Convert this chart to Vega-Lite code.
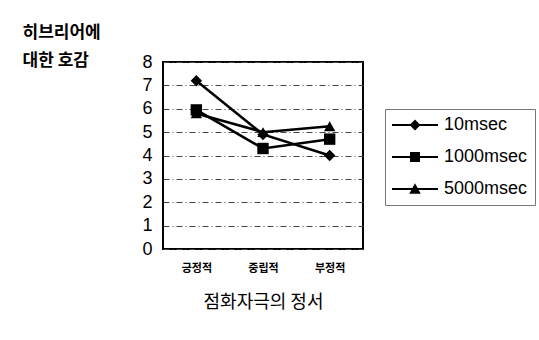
{
  "$schema": "https://vega.github.io/schema/vega-lite/v6.json",
  "width": 200,
  "height": 187,
  "autosize": "none",
  "padding": {"left": 163, "top": 62, "right": 176, "bottom": 91},
  "background": "white",
  "data": {
    "values": [
      {"emotion": "긍정적", "condition": "10msec", "rating": 7.2},
      {"emotion": "중립적", "condition": "10msec", "rating": 4.9},
      {"emotion": "부정적", "condition": "10msec", "rating": 4.0},
      {"emotion": "긍정적", "condition": "1000msec", "rating": 5.95},
      {"emotion": "중립적", "condition": "1000msec", "rating": 4.3},
      {"emotion": "부정적", "condition": "1000msec", "rating": 4.7},
      {"emotion": "긍정적", "condition": "5000msec", "rating": 5.8},
      {"emotion": "중립적", "condition": "5000msec", "rating": 5.0},
      {"emotion": "부정적", "condition": "5000msec", "rating": 5.25}
    ]
  },
  "encoding": {
    "x": {
      "field": "emotion",
      "type": "nominal",
      "sort": ["긍정적", "중립적", "부정적"],
      "scale": {"type": "point", "padding": 0.5},
      "axis": {
        "title": "점화자극의 정서",
        "titleFont": "Noto Sans CJK KR",
        "titleFontSize": 18,
        "titleFontWeight": "normal",
        "titleColor": "black",
        "titlePadding": 20,
        "labelFont": "Noto Sans CJK KR",
        "labelFontSize": 11,
        "labelFontWeight": "bold",
        "labelColor": "black",
        "labelAngle": 0,
        "labelPadding": 13,
        "ticks": false,
        "domain": false,
        "grid": false
      }
    },
    "y": {
      "field": "rating",
      "type": "quantitative",
      "scale": {"domain": [0, 8], "nice": false},
      "axis": {
        "title": ["히브리어에", "대한 호감"],
        "titleAngle": 0,
        "titleX": -141,
        "titleY": -30,
        "titleAlign": "left",
        "titleBaseline": "middle",
        "titleFont": "Noto Sans CJK KR",
        "titleFontSize": 17,
        "titleFontWeight": "bold",
        "titleColor": "black",
        "titleLineHeight": 28,
        "values": [0, 1, 2, 3, 4, 5, 6, 7, 8],
        "labelFont": "Liberation Sans",
        "labelFontSize": 18,
        "labelColor": "black",
        "labelPadding": 11,
        "ticks": false,
        "domain": false,
        "grid": true,
        "gridColor": "#444444",
        "gridDash": [6, 3, 1, 3],
        "gridWidth": 1
      }
    }
  },
  "layer": [
    {
      "mark": {"type": "line", "color": "black", "strokeWidth": 2.5},
      "encoding": {"detail": {"field": "condition"}}
    },
    {
      "mark": {"type": "point", "filled": true, "color": "black", "opacity": 1, "size": 130},
      "encoding": {
        "shape": {
          "field": "condition",
          "type": "nominal",
          "scale": {"domain": ["10msec", "1000msec", "5000msec"], "range": ["diamond", "square", "triangle-up"]},
          "legend": null
        }
      }
    },
    {
      "transform": [{"filter": "datum.rating > 100"}],
      "mark": {"type": "point", "filled": true, "color": "black", "opacity": 1, "size": 100},
      "encoding": {
        "shape": {
          "field": "condition",
          "type": "nominal",
          "scale": {
            "domain": ["10msec", "1000msec", "5000msec"],
            "range": [
              "M-4.6,-0.22H4.6V0.22H-4.6ZM0,-1.1L1.1,0L0,1.1L-1.1,0Z",
              "M-4.6,-0.22H4.6V0.22H-4.6ZM-1,-1H1V1H-1Z",
              "M-4.6,-0.22H4.6V0.22H-4.6ZM0,-1.15L1.15,0.95H-1.15Z"
            ]
          },
          "legend": {
            "title": null,
            "orient": "none",
            "legendX": 222,
            "legendY": 47,
            "padding": 7,
            "strokeColor": "#777777",
            "labelFont": "Liberation Sans",
            "labelFontSize": 18,
            "labelColor": "black",
            "labelOffset": 20,
            "rowPadding": 14,
            "symbolSize": 100,
            "symbolOffset": 14,
            "symbolFillColor": "black"
          }
        }
      }
    }
  ],
  "resolve": {"scale": {"shape": "independent"}, "legend": {"shape": "independent"}},
  "config": {"view": {"stroke": "black", "strokeWidth": 2}}
}
